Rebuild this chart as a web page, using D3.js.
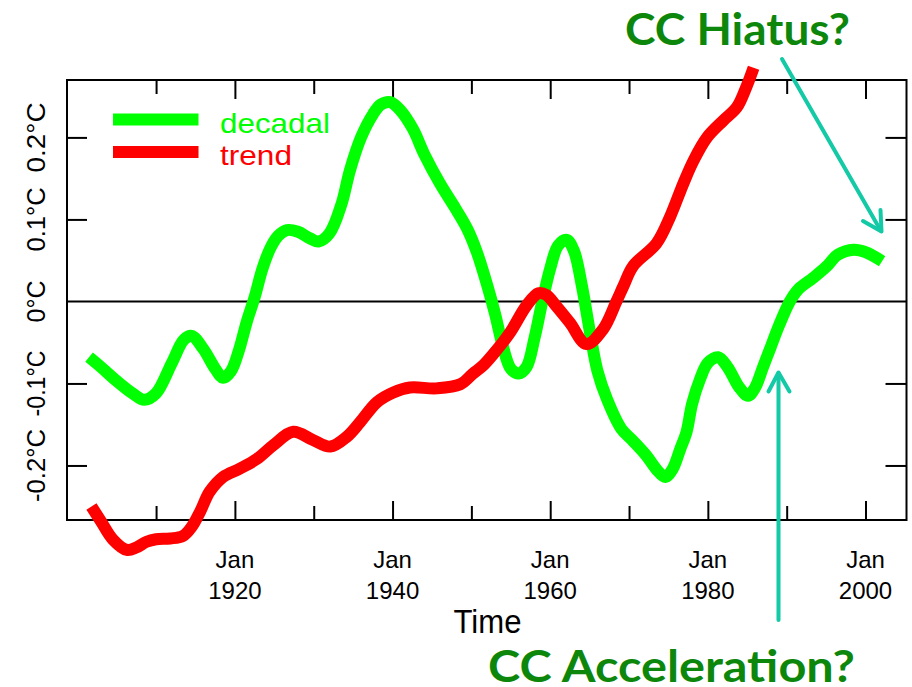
<!DOCTYPE html>
<html>
<head>
<meta charset="utf-8">
<script src="https://cdn.jsdelivr.net/npm/d3@7"></script>
<style>
  body { margin: 0; background: #fff; }
  svg { display: block; }
  .tick line { stroke: #000; stroke-width: 2; }
  .domain { display: none; }
</style>
</head>
<body>
<div id="viz"></div>
<script>
// decadal (green) and trend (red) curves
var decadalYears = [1901.5, 1903, 1905, 1907, 1908.5, 1910, 1912, 1913.5, 1914.5, 1916, 1917.5, 1918.5, 1919.5, 1920.5, 1921.5, 1922.5, 1923.5, 1924.5, 1925.5, 1926.6, 1928, 1929.5, 1930.6, 1932, 1933.5, 1934.6, 1936, 1937.5, 1938.5, 1939.7, 1941, 1942.6, 1944, 1946, 1948, 1949.5, 1950.7, 1952, 1953, 1954, 1955, 1956, 1957, 1958, 1959, 1960, 1961, 1962.1, 1963, 1964, 1965, 1966, 1967.2, 1969, 1970.5, 1972.2, 1973.5, 1974.6, 1975.5, 1976.5, 1977.3, 1978, 1979, 1980, 1981.3, 1982.5, 1984, 1985.1, 1986, 1987, 1988, 1989, 1990.4, 1991.5, 1993.4, 1995, 1996.5, 1998.5, 2000, 2002.1];
var decadalValues = [-0.068, -0.080, -0.097, -0.112, -0.120, -0.112, -0.075, -0.047, -0.042, -0.058, -0.082, -0.093, -0.085, -0.060, -0.025, 0.005, 0.040, 0.065, 0.080, 0.087, 0.085, 0.077, 0.073, 0.083, 0.118, 0.160, 0.200, 0.228, 0.240, 0.243, 0.233, 0.210, 0.180, 0.144, 0.113, 0.088, 0.060, 0.020, -0.015, -0.055, -0.082, -0.088, -0.080, -0.045, 0.000, 0.040, 0.068, 0.075, 0.062, 0.020, -0.035, -0.085, -0.119, -0.155, -0.170, -0.188, -0.205, -0.214, -0.205, -0.180, -0.159, -0.125, -0.095, -0.075, -0.068, -0.080, -0.105, -0.115, -0.105, -0.080, -0.055, -0.030, 0.000, 0.015, 0.029, 0.042, 0.057, 0.063, 0.060, 0.049];

var trendYears = [1901.8, 1903, 1904.5, 1906.3, 1907.5, 1908.8, 1910, 1911.8, 1913.4, 1914.5, 1915.6, 1916.8, 1918.5, 1920.6, 1922.8, 1924.9, 1927.4, 1929.9, 1932.1, 1934.2, 1935.9, 1938, 1940.1, 1942.2, 1945.6, 1948.6, 1950.2, 1951.5, 1952.8, 1954.9, 1957, 1958.5, 1959.5, 1960.8, 1962.5, 1964.6, 1966.7, 1968.4, 1969.3, 1970.5, 1973.5, 1975.2, 1976.9, 1978.2, 1979.9, 1982, 1983.7, 1984.9, 1985.8];
var trendValues = [-0.250, -0.268, -0.290, -0.303, -0.300, -0.293, -0.290, -0.289, -0.286, -0.275, -0.256, -0.232, -0.214, -0.204, -0.192, -0.175, -0.159, -0.169, -0.177, -0.165, -0.147, -0.123, -0.111, -0.105, -0.106, -0.101, -0.088, -0.078, -0.064, -0.038, -0.005, 0.010, 0.008, -0.006, -0.026, -0.052, -0.034, 0.000, 0.019, 0.043, 0.071, 0.103, 0.144, 0.172, 0.200, 0.221, 0.237, 0.262, 0.285];

var majorYears = [1920, 1940, 1960, 1980, 2000];
var minorYears = [1910, 1930, 1950, 1970, 1990];
var yLabelValues = [-0.2, -0.1, 0, 0.1, 0.2];
var yLabels = ["-0.2°C", "-0.1°C", "0°C", "0.1°C", "0.2°C"];
var yLabelLengths = [73, 66, 42, 64, 70];
var yTickValues = [-0.2, -0.1, 0.1, 0.2];
var seriesNames = ["decadal", "trend"];
var seriesColors = ["#00ff00", "#ff0000"];

var W = 912, H = 687;
var plotL = 67, plotR = 906.5, plotT = 80, plotB = 520;

var svg = d3.select("#viz").append("svg")
    .attr("width", W)
    .attr("height", H);

var x = d3.scaleLinear().domain([1898.7, 2005.2]).range([plotL, plotR]);
var y = d3.scaleLinear().domain([-0.2665, 0.27]).range([plotB, plotT]);

// ticks, all pointing inward
svg.append("g").attr("transform", "translate(0," + plotB + ")")
    .call(d3.axisBottom(x).tickValues(majorYears).tickSize(-19).tickFormat(""));
svg.append("g").attr("transform", "translate(0," + plotB + ")")
    .call(d3.axisBottom(x).tickValues(minorYears).tickSize(-14).tickFormat(""));
svg.append("g").attr("transform", "translate(0," + plotT + ")")
    .call(d3.axisTop(x).tickValues(majorYears).tickSize(-19).tickFormat(""));
svg.append("g").attr("transform", "translate(0," + plotT + ")")
    .call(d3.axisTop(x).tickValues(minorYears).tickSize(-14).tickFormat(""));
svg.append("g").attr("transform", "translate(" + plotL + ",0)")
    .call(d3.axisLeft(y).tickValues(yTickValues).tickSize(-20).tickFormat(""));
svg.append("g").attr("transform", "translate(" + plotR + ",0)")
    .call(d3.axisRight(y).tickValues(yTickValues).tickSize(-21).tickFormat(""));

// frame
svg.append("rect")
    .attr("x", plotL).attr("y", plotT)
    .attr("width", plotR - plotL).attr("height", plotB - plotT)
    .attr("fill", "none").attr("stroke", "#000").attr("stroke-width", 2);

// zero line
svg.append("line")
    .attr("x1", plotL).attr("x2", plotR)
    .attr("y1", y(0)).attr("y2", y(0))
    .attr("stroke", "#000").attr("stroke-width", 2);

// x labels
var xl = svg.append("g").attr("font-family", "Liberation Sans, Arial, sans-serif")
    .attr("font-size", 24).attr("text-anchor", "middle").attr("fill", "#000");
majorYears.forEach(function(yr) {
    xl.append("text").attr("x", x(yr)).attr("y", 568).text("Jan");
    xl.append("text").attr("x", x(yr)).attr("y", 599).text(yr);
});
svg.append("text")
    .attr("x", 487.5).attr("y", 633)
    .attr("font-family", "Liberation Sans, Arial, sans-serif")
    .attr("font-size", 34).attr("text-anchor", "middle")
    .attr("textLength", 68).attr("lengthAdjust", "spacingAndGlyphs")
    .text("Time");

// y labels, rotated
yLabelValues.forEach(function(v, i) {
    svg.append("text")
        .attr("transform", "translate(45," + y(v) + ") rotate(-90)")
        .attr("x", -yLabelLengths[i] / 2)
        .attr("font-family", "Liberation Sans, Arial, sans-serif")
        .attr("font-size", 26)
        .attr("textLength", yLabelLengths[i]).attr("lengthAdjust", "spacingAndGlyphs")
        .text(yLabels[i]);
});

// curves
var line = d3.line()
    .x(function(d) { return x(d[0]); })
    .y(function(d) { return y(d[1]); })
    .curve(d3.curveCatmullRom);

var decadal = d3.zip(decadalYears, decadalValues);
var trend = d3.zip(trendYears, trendValues);

svg.append("path").datum(decadal)
    .attr("d", line).attr("fill", "none")
    .attr("stroke", seriesColors[0]).attr("stroke-width", 12)
    .attr("stroke-linejoin", "round");
svg.append("path").datum(trend)
    .attr("d", line).attr("fill", "none")
    .attr("stroke", seriesColors[1]).attr("stroke-width", 12)
    .attr("stroke-linejoin", "round");

// legend
var leg = svg.append("g");
seriesNames.forEach(function(n, i) {
    var ly = 119.5 + i * 32.5;
    leg.append("line")
        .attr("x1", 113).attr("x2", 198.5)
        .attr("y1", ly).attr("y2", ly)
        .attr("stroke", seriesColors[i]).attr("stroke-width", 12);
    leg.append("text")
        .attr("x", 220).attr("y", ly + 13)
        .attr("font-family", "Liberation Sans, Arial, sans-serif")
        .attr("font-size", 28).attr("fill", seriesColors[i])
        .attr("textLength", i === 0 ? 110 : 72).attr("lengthAdjust", "spacingAndGlyphs")
        .text(n);
});

// annotations
var teal = "#13c9a6";
var arrows = svg.append("g").attr("fill", "none").attr("stroke", teal)
    .attr("stroke-width", 4).attr("stroke-linecap", "round").attr("stroke-linejoin", "round");
arrows.append("line").attr("x1", 782).attr("y1", 59).attr("x2", 881).attr("y2", 231);
arrows.append("polyline").attr("points", "863,221 881.5,231.5 880.5,210");
arrows.append("line").attr("x1", 778.5).attr("y1", 620).attr("x2", 778.5).attr("y2", 373);
arrows.append("polyline").attr("points", "768.5,391.5 778.5,372.5 789.5,391.5");

var green = "#0c870c";
svg.append("text")
    .attr("x", 625).attr("y", 45)
    .attr("font-family", "Lato, sans-serif").attr("font-weight", "bold")
    .attr("font-size", 44).attr("fill", green)
    .attr("textLength", 225).attr("lengthAdjust", "spacingAndGlyphs")
    .text("CC Hiatus?");
svg.append("text")
    .attr("x", 488).attr("y", 682)
    .attr("font-family", "Lato, sans-serif").attr("font-weight", "bold")
    .attr("font-size", 43).attr("fill", green)
    .attr("textLength", 367).attr("lengthAdjust", "spacingAndGlyphs")
    .text("CC Acceleration?");
</script>
</body>
</html>
